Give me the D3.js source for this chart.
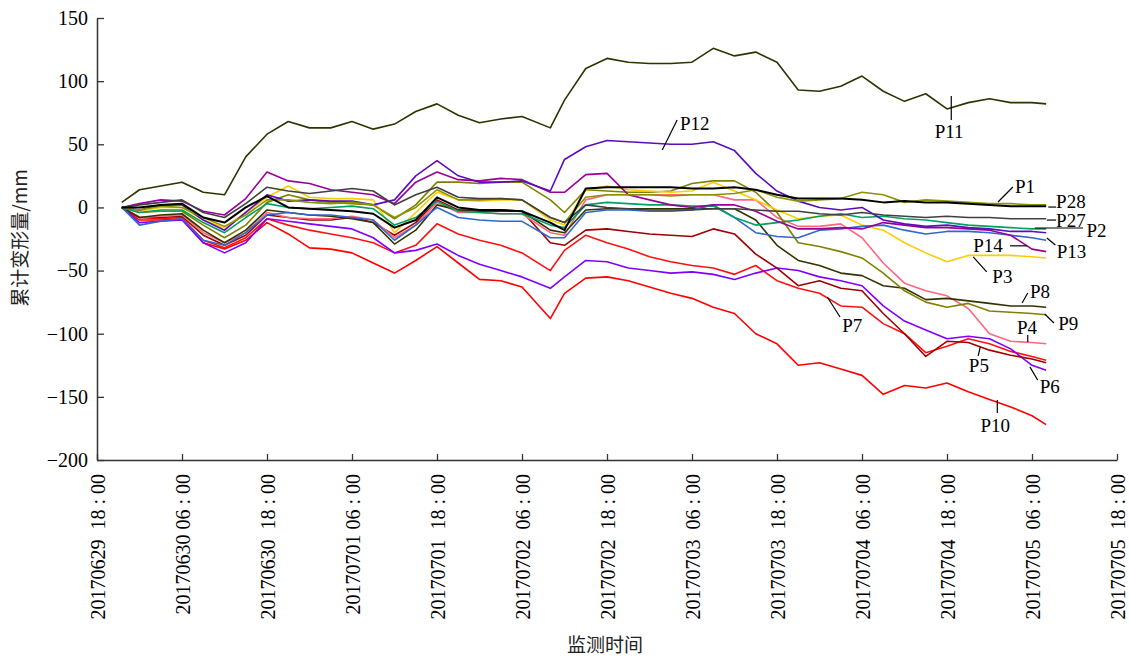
<!DOCTYPE html>
<html><head><meta charset="utf-8">
<script src="https://cdn.jsdelivr.net/npm/d3@7"></script>
<style>
html,body{margin:0;padding:0;background:#fff;}
svg{display:block;}
text{font-family:"Liberation Serif","Times New Roman",serif;fill:#000;}
</style></head>
<body>
<svg id="chart" width="1129" height="657"></svg>
<script>
// hours since 2017-06-29 18:00
const times = [3.5,6,9,12,15,18,21,24,27,30,33,36,39,42,45,48,51,54,57,60,64,66,69,72,75,78,81,84,87,90,93,96,99,102,105,108,111,114,117,120,123,126,129,132,134];
const tickHours = [0,12,24,36,48,60,72,84,96,108,120,132,144];
const tickLabels = ["20170629  18 : 00","20170630 06 : 00","20170630  18 : 00","20170701 06 : 00","20170701  18 : 00","20170702  06 : 00","20170702  18 : 00","20170703  06 : 00","20170703  18 : 00","20170704  06 : 00","20170704  18 : 00","20170705  06 : 00","20170705  18 : 00"];
const yTicks = [150,100,50,0,-50,-100,-150,-200];

const P11 = [4,14,17,20,12,10,40,58,68,63,63,68,62,66,76,82,73,67,70,72,63,85,110,118,115,114,114,115,126,120,123,115,93,92,96,104,92,84,90,78,83,86,83,83,82];
const P12 = [0,-2,2,2,-10,-18,-4,10,5,6,5,5,2,6,25,37,25,20,20,21,13,38,48,53,52,51,50,50,52,45,27,13,5,0,-2,0,-10,-13,-15,-14,-16,-17,-19,-19,-20];
const P1  = [0,0,2,3,-8,-12,0,9,0,-1,-2,-3,-5,-16,-10,8,0,-2,-2,-3,-12,-18,15,16,16,16,16,15,15,16,14,10,7,7,7,6,4,5,4,4,3,2,1,1,1];
const P27 = [0,2,4,6,-4,-8,3,16,13,11,13,15,13,2,10,16,8,7,7,6,-8,-12,2,0,-1,-2,-2,-2,-1,-1,-2,-3,-3,-5,-6,-4,-6,-7,-8,-7,-8,-8,-9,-9,-9];
const P14 = [0,3,6,5,-3,-6,7,28,21,19,14,12,10,3,20,28,22,21,23,22,12,12,26,27,10,6,2,0,2,2,-3,-11,-17,-17,-16,-17,-12,-14,-16,-16,-17,-18,-22,-33,-35];
const P13 = [0,-14,-11,-9,-26,-30,-20,-6,-4,-6,-6,-8,-10,-26,-14,0,-8,-10,-11,-11,-24,-24,-4,-2,-2,-3,-3,-2,2,-8,-20,-23,-24,-18,-17,-15,-14,-18,-21,-19,-19,-20,-22,-24,-26];
const P2  = [0,-4,-2,-2,-12,-20,-8,3,0,-1,0,1,-1,-14,-8,5,-3,-4,-5,-5,-14,-16,2,4,3,2,2,1,1,-8,-14,-12,-10,-7,-5,-8,-7,-9,-10,-12,-14,-15,-16,-17,-17];
const P3  = [0,-3,0,0,-10,-16,-4,8,17,8,7,7,6,-20,-4,12,6,5,6,6,-10,-14,14,17,14,13,12,13,20,13,6,-2,-9,-7,-6,-14,-18,-28,-36,-43,-38,-38,-38,-39,-40];
const P28 = [0,-2,1,0,-8,-15,-6,6,6,4,3,4,2,-8,0,14,6,6,7,6,-8,-12,8,10,10,10,9,10,10,11,14,8,5,6,7,12,10,4,6,5,4,3,3,2,2];
const P9  = [0,-4,-3,-3,-14,-24,-14,4,10,6,4,3,2,-9,2,20,20,19,20,20,6,-4,14,13,12,12,13,19,21,21,12,-4,-28,-31,-35,-40,-52,-66,-75,-79,-76,-82,-83,-84,-85];
const P8  = [0,-8,-6,-5,-18,-28,-18,-2,-4,-6,-7,-9,-12,-29,-18,2,-2,-3,-3,-3,-18,-20,-2,-1,-1,-1,-1,-1,-1,-1,-10,-30,-42,-46,-52,-54,-62,-64,-73,-72,-74,-76,-78,-78,-79];
const P4  = [0,-8,-7,-6,-20,-28,-20,-4,-8,-9,-9,-7,-10,-24,-14,4,-4,-4,-5,-5,-20,-22,6,10,10,10,10,10,10,6,6,-8,-15,-15,-13,-24,-44,-60,-66,-70,-80,-100,-106,-107,-108];
const P5  = [0,-8,-8,-7,-22,-30,-22,-6,-8,-10,-10,-8,-12,-22,-12,6,-2,-2,-2,-3,-28,-30,-18,-17,-19,-21,-22,-23,-17,-21,-37,-48,-62,-58,-64,-66,-84,-100,-118,-106,-107,-113,-117,-120,-123];
const P7  = [0,-8,-9,-8,-26,-32,-24,-9,-14,-18,-21,-24,-28,-36,-30,-13,-21,-26,-30,-36,-50,-34,-22,-28,-33,-39,-43,-46,-48,-53,-46,-58,-64,-68,-78,-79,-92,-100,-115,-110,-104,-108,-114,-118,-121];
const P6  = [0,-12,-11,-10,-28,-36,-28,-9,-11,-13,-15,-17,-24,-36,-34,-29,-38,-45,-50,-55,-64,-55,-42,-43,-48,-50,-52,-51,-53,-57,-52,-48,-50,-55,-58,-62,-78,-90,-97,-104,-102,-104,-112,-125,-129];
const P10 = [0,-10,-10,-9,-28,-33,-26,-12,-21,-32,-33,-36,-44,-52,-42,-31,-44,-57,-58,-63,-88,-68,-56,-55,-58,-63,-68,-72,-79,-84,-100,-108,-125,-123,-128,-133,-148,-141,-143,-139,-146,-152,-158,-165,-172];

const seriesNames  = ["P10","P7","P6","P5","P4","P8","P9","P3","P13","P2","P14","P12","P28","P27","P1","P11"];
const seriesValues = [P10,P7,P6,P5,P4,P8,P9,P3,P13,P2,P14,P12,P28,P27,P1,P11];
const seriesColors = ["#ff0000","#ff1010","#7f00ff","#a00000","#ff6680","#333300","#808000","#ffcc00","#3366cc","#00a060","#990099","#5c0db8","#8a9400","#404040","#000000","#2e3300"];

// label annotations in data units: [name, textT, textV, anchor, t1, v1, t2, v2]
const labels = [
 ["P11",120.3,54.9,"middle",120.6,88.2,120.6,69.2],
 ["P12",82.3,61.3,"start",79.8,45.4,81.9,69.2],
 ["P1",129.6,11.4,"start",127.2,4.3,129.3,16.2],
 ["P28",135.4,-0.3,"start",134.3,0.3,135.4,0.3],
 ["P27",135.4,-15.5,"start",134.1,-10,135.4,-10],
 ["P2",139.7,-23.4,"start",132.4,-16.3,139.2,-16.3],
 ["P13",135.5,-40,"start",134.1,-24.2,135.3,-29.8],
 ["P14",123.7,-35.2,"start",128.9,-30.4,131.3,-30.4],
 ["P3",126.4,-59.7,"start",123.7,-39.1,125.6,-51],
 ["P8",131.7,-71.8,"start",130.6,-75.7,131.4,-67.8],
 ["P9",135.7,-97,"start",133.8,-84.4,135.1,-91.5],
 ["P4",131.3,-100.5,"middle",131.4,-106.6,131.4,-101],
 ["P7",105.2,-98.6,"start",103.1,-70.9,104.9,-86.8],
 ["P5",124.5,-130.3,"middle",124.7,-110.5,124.4,-117.6],
 ["P6",133.1,-146.9,"start",131.7,-126.3,132.8,-136.6],
 ["P10",126.8,-177.8,"middle",127.1,-152.5,127.1,-162.8]
];

const svg = d3.select("#chart");
const x = d3.scaleLinear().domain([0,144]).range([97,1117]);
const y = d3.scaleLinear().domain([-200,150]).range([460,18]);

// lines
const line = d3.line().x((d,i)=>x(times[i])).y(d=>y(d)).curve(d3.curveLinear);
const gLines = svg.append("g");
seriesValues.forEach((vals,k)=>{
  gLines.append("path").datum(vals)
    .attr("d",line)
    .attr("fill","none")
    .attr("stroke",seriesColors[k])
    .attr("stroke-width", seriesNames[k]==="P1" ? 2 : 1.6)
    .attr("stroke-linejoin","round");
});

// axes
const yAxis = d3.axisLeft(y).tickValues(yTicks).tickSize(-7).tickSizeOuter(0).tickPadding(9)
  .tickFormat(d=> d<0 ? "\u2212"+Math.abs(d) : d);
const gy = svg.append("g").attr("transform","translate(97,0)").call(yAxis);
gy.selectAll("text").style("font-size","20px").style("font-family","'Liberation Serif',serif");
gy.select(".domain").attr("stroke","#333").attr("stroke-width",1.5);
gy.selectAll(".tick line").attr("stroke","#333").attr("stroke-width",1.3);

const xAxis = d3.axisBottom(x).tickValues(tickHours).tickSize(-6).tickSizeOuter(0)
  .tickFormat((d,i)=>tickLabels[i]);
const gx = svg.append("g").attr("transform","translate(0,460)").call(xAxis);
gx.select(".domain").attr("stroke","#333").attr("stroke-width",1.5);
gx.selectAll(".tick line").attr("stroke","#333").attr("stroke-width",1.3);
gx.selectAll("text")
  .attr("transform","rotate(-90)")
  .attr("x",-14).attr("y",0).attr("dy","0.35em")
  .attr("text-anchor","end")
  .style("white-space","pre")
  .style("font-size","20px")
  .style("font-family","'Liberation Serif',serif");

// axis titles
svg.append("text").attr("transform","translate(27,238) rotate(-90)")
  .attr("text-anchor","middle").style("font-size","19px")
  .style("font-family","'Noto Sans CJK SC',sans-serif").style("fill","#222")
  .text("累计变形量/mm");
svg.append("text").attr("x",605).attr("y",652)
  .attr("text-anchor","middle").style("font-size","19px")
  .style("font-family","'Noto Sans CJK SC',sans-serif").style("fill","#222")
  .text("监测时间");

// labels
const gl = svg.append("g");
labels.forEach(l=>{
  gl.append("line").attr("x1",x(l[4])).attr("y1",y(l[5])).attr("x2",x(l[6])).attr("y2",y(l[7]))
    .attr("stroke","#000").attr("stroke-width",1.2);
  gl.append("text").attr("x",x(l[1])).attr("y",y(l[2])).attr("text-anchor",l[3])
    .style("font-size","19px").text(l[0]);
});
</script>
</body></html>
